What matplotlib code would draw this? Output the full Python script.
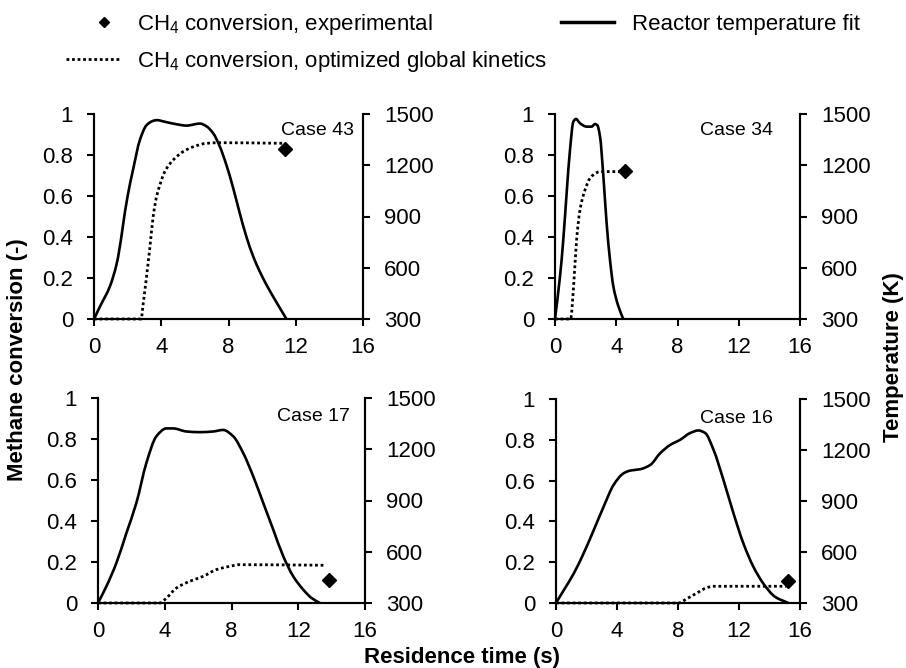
import matplotlib
matplotlib.use("Agg")
import numpy as np
import matplotlib.pyplot as plt
from matplotlib.lines import Line2D
from matplotlib.path import Path
from matplotlib.patches import PathPatch
from matplotlib.legend_handler import HandlerLine2D

plt.rcParams['font.family'] = ['Liberation Sans', 'DejaVu Sans']
plt.rcParams['mathtext.fontset'] = 'custom'
plt.rcParams['mathtext.rm'] = 'Liberation Sans'
plt.rcParams['mathtext.it'] = 'Liberation Sans:italic'
plt.rcParams['mathtext.bf'] = 'Liberation Sans:bold'

# ---------------- data ----------------
cases = ["Case 43", "Case 34", "Case 17", "Case 16"]

# Reactor temperature fit (K) vs residence time (s)
t43_T = [0, 0.36, 0.95, 1.35, 2.0, 2.34, 2.73, 3.13, 3.52, 3.72, 4.32, 4.91, 5.5, 6.3, 6.69, 7.09,
         7.49, 7.88, 8.28, 8.67, 9.07, 9.47, 9.86, 10.26, 10.65, 11.05, 11.45]
T43 = [300, 374, 492, 624, 1020, 1182, 1348, 1435, 1460, 1464, 1452, 1440, 1432, 1444, 1428, 1387,
       1308, 1200, 1066, 919, 780, 666, 578, 500, 432, 365, 300]

t34_T = [0, 0.33, 0.54, 0.76, 0.98, 1.2, 1.37, 1.63, 2.07, 2.39, 2.61, 2.76, 2.94, 3.16, 3.37,
         3.59, 3.81, 4.14, 4.46]
T34 = [300, 552, 763, 1037, 1290, 1456, 1471, 1446, 1426, 1426, 1441, 1435, 1368, 1134, 862,
       647, 491, 374, 300]

t17_T = [0, 0.5, 1.1, 1.7, 2.3, 2.9, 3.5, 4.1, 4.5, 5.3, 6.1, 6.9, 7.5, 8.1, 8.7, 9.3, 9.9,
         10.5, 11.1, 11.7, 12.3, 12.8, 13.3]
T17 = [300, 397, 534, 709, 886, 1120, 1276, 1322, 1322, 1304, 1300, 1304, 1313, 1276, 1178, 1042,
       886, 730, 574, 456, 378, 329, 300]

t16_T = [0, 0.5, 1.16, 1.81, 2.47, 3.12, 3.78, 4.43, 4.87, 5.52, 6.18, 6.83, 7.49, 8.14, 8.8,
         9.34, 9.78, 10.33, 10.98, 11.64, 12.29, 12.95, 13.6, 14.37, 15.24]
T16 = [300, 374, 473, 592, 728, 866, 995, 1063, 1079, 1087, 1112, 1181, 1230, 1260, 1300,
       1315, 1300, 1201, 1024, 827, 650, 512, 414, 336, 300]

# CH4 conversion, optimized global kinetics
t43_X = [0, 2.8, 2.93, 3.13, 3.33, 3.52, 3.72, 3.92, 4.1, 4.32, 4.71, 5.31, 5.9, 6.69, 7.49, 11.25]
X43 = [0, 0, 0.078, 0.21, 0.354, 0.5, 0.597, 0.654, 0.698, 0.735, 0.776, 0.817, 0.84, 0.857, 0.86, 0.857]

t34_X = [0, 1.02, 1.2, 1.41, 1.63, 1.96, 2.29, 2.72, 2.94, 4.46]
X34 = [0, 0, 0.143, 0.386, 0.532, 0.63, 0.687, 0.714, 0.719, 0.719]

t17_X = [0, 3.7, 4.1, 4.7, 5.5, 6.3, 7.1, 7.9, 8.5, 13.6]
X17 = [0, 0, 0.024, 0.073, 0.106, 0.13, 0.163, 0.179, 0.187, 0.184]

t16_X = [0, 8.03, 8.58, 9.24, 9.89, 10.33, 15.1]
X16 = [0, 0, 0.021, 0.049, 0.075, 0.082, 0.082]

# CH4 conversion, experimental
t_exp = [11.35, 4.6, 13.86, 15.24]
X_exp = [0.828, 0.722, 0.111, 0.108]

label_pos = [(13.3, 0.92), (11.87, 0.92), (12.9, 0.909), (11.85, 0.904)]

x_ticks = [0, 4, 8, 12, 16]
conv_ticks = [0, 0.2, 0.4, 0.6, 0.8, 1]
conv_ticklabels = ["0", "0.2", "0.4", "0.6", "0.8", "1"]
temp_ticks = [300, 600, 900, 1200, 1500]

T_sets = [(t43_T, T43), (t34_T, T34), (t17_T, T17), (t16_T, T16)]
X_sets = [(t43_X, X43), (t34_X, X34), (t17_X, X17), (t16_X, X16)]


def smooth_path(x, y):
    """Smoothed (Bezier) line through the data points without overshoot (monotone Hermite)."""
    x = np.asarray(x, float)
    y = np.asarray(y, float)
    n = len(x)
    h = np.diff(x)
    d = np.diff(y) / h
    m = np.zeros(n)
    m[0] = d[0]
    m[-1] = d[-1]
    for k in range(1, n - 1):
        if d[k - 1] * d[k] <= 0:
            m[k] = 0.0
        else:
            w1 = 2 * h[k] + h[k - 1]
            w2 = h[k] + 2 * h[k - 1]
            m[k] = (w1 + w2) / (w1 / d[k - 1] + w2 / d[k])
    verts = [(x[0], y[0])]
    codes = [Path.MOVETO]
    for i in range(n - 1):
        s = h[i] / 3.0
        verts += [(x[i] + s, y[i] + m[i] * s),
                  (x[i + 1] - s, y[i + 1] - m[i + 1] * s),
                  (x[i + 1], y[i + 1])]
        codes += [Path.CURVE4] * 3
    return Path(verts, codes)


class ShiftedMarkerHandler(HandlerLine2D):
    def create_artists(self, legend, orig_handle, xdescent, ydescent, width, height,
                       fontsize, trans):
        arts = super().create_artists(legend, orig_handle, xdescent, ydescent, width, height,
                                      fontsize, trans)
        for a in arts:
            a.set_xdata(np.asarray(a.get_xdata()) + 0.22 * width)
        return arts


# ---------------- figure ----------------
W, H = 906, 668
fig = plt.figure(figsize=(W / 100, H / 100), dpi=100)


def px_axes(l, r, t, b):
    return [l / W, 1 - b / H, (r - l) / W, (b - t) / H]


rects = [px_axes(94, 363, 114, 319), px_axes(555, 800, 114, 319),
         px_axes(98, 365, 398, 603), px_axes(556, 800, 399, 603)]

TICK_FS = 16
dot_style = (0, (1, 1))

for i in range(4):
    ax = fig.add_axes(rects[i])
    ax2 = ax.twinx()
    ax.set_xlim(0, 16)
    ax.set_ylim(0, 1)
    ax2.set_ylim(300, 1500)
    ax.set_xticks(x_ticks)
    ax.set_xticklabels([str(v) for v in x_ticks])
    ax.set_yticks(conv_ticks)
    ax.set_yticklabels(conv_ticklabels)
    ax2.set_yticks(temp_ticks)
    ax2.set_yticklabels([str(v) for v in temp_ticks])
    for a in (ax, ax2):
        a.spines['top'].set_visible(False)
        for s in a.spines.values():
            s.set_linewidth(1.5)
        a.tick_params(direction='out', length=5, width=1.5, labelsize=TICK_FS, pad=10)
    ax.tick_params(axis='x', pad=8)

    tx, Ty = T_sets[i]
    ax2.add_patch(PathPatch(smooth_path(tx, Ty), fill=False, edgecolor='black', lw=1.9,
                            transform=ax2.transData, clip_on=False, joinstyle='round'))
    ax.set_zorder(ax2.get_zorder() + 1)
    ax.patch.set_visible(False)
    xx, Xy = X_sets[i]
    ax.add_patch(PathPatch(smooth_path(xx, Xy), fill=False, edgecolor='black', lw=2.0,
                           linestyle=dot_style, transform=ax.transData, clip_on=False))
    ax.plot([t_exp[i]], [X_exp[i]], marker='D', color='black', markersize=7, linestyle='none',
            clip_on=False)
    ax.text(label_pos[i][0], label_pos[i][1], cases[i], ha='center', va='center', fontsize=14)

# axis labels
fig.text(18 / W, 1 - 360 / H, "Methane conversion (-)", rotation=90, ha='center', va='center',
         fontsize=16, fontweight='bold')
fig.text(893 / W, 1 - 357 / H, "Temperature (K)", rotation=90, ha='center', va='center',
         fontsize=16, fontweight='bold')
fig.text(462 / W, 1 - 663 / H, "Residence time (s)", ha='center', va='baseline',
         fontsize=16, fontweight='bold')

# legend
h_exp = Line2D([], [], color='black', marker='D', markersize=5.5, linestyle='none')
h_opt = Line2D([], [], color='black', lw=2.0, linestyle=dot_style)
h_T = Line2D([], [], color='black', lw=2.5)
fig.legend([h_exp, h_opt, h_T],
           ["CH$_\\mathregular{4}$ conversion, experimental",
            "CH$_\\mathregular{4}$ conversion, optimized global kinetics",
            "Reactor temperature fit"],
           handler_map={h_exp: ShiftedMarkerHandler()},
           ncol=2, loc='upper left', bbox_to_anchor=(66 / W, 1 - 12 / H), frameon=False,
           fontsize=16, handlelength=2.4, handletextpad=0.8, columnspacing=0.6,
           labelspacing=0.55, borderpad=0, borderaxespad=0)

fig.savefig("out.png", dpi=100)
